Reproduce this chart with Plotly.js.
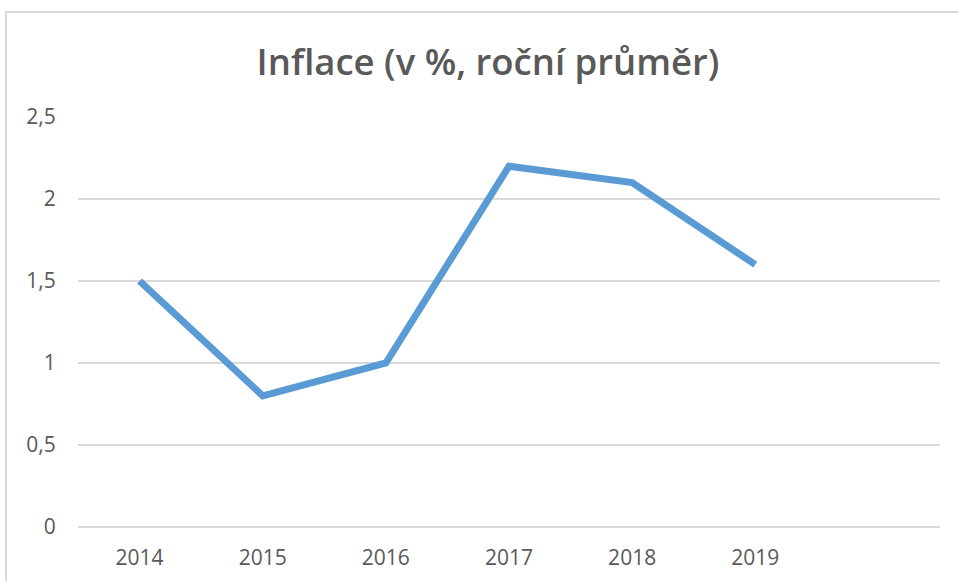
<!DOCTYPE html>
<html>
<head>
<meta charset="utf-8">
<script src="https://cdn.plot.ly/plotly-3.0.1.min.js"></script>
<style>html,body{margin:0;padding:0;background:#fff;}</style>
</head>
<body>
<div id="chart" style="width:958px;height:581px;"></div>
<script>
const years = ['2014', '2015', '2016', '2017', '2018', '2019'];
const inflation = [1.5, 0.8, 1.0, 2.2, 2.1, 1.6];
const titleText = 'Inflace (v %, roční průměr)';

const W = 958, H = 581;
const mL = 78, mR = 18, mT = 117, mB = 54;
const pw = W - mL - mR, ph = H - mT - mB;

const trace = {
  x: years, y: inflation, type: 'scatter', mode: 'lines',
  line: {color: '#5B9BD5', width: 7}, hoverinfo: 'x+y'
};

const layout = {
  width: W, height: H,
  margin: {l: mL, r: mR, t: mT, b: mB},
  paper_bgcolor: '#fff', plot_bgcolor: '#fff',
  separators: ', ',
  showlegend: false,
  font: {family: '"Open Sans", Lato, sans-serif', color: '#595959'},
  title: {
    text: titleText,
    font: {family: '"Open Sans", Lato, sans-serif', size: 36.5, weight: 600, color: '#595959'},
    x: 488 / W, xref: 'container', xanchor: 'center',
    y: 1 - 62 / H, yref: 'container', yanchor: 'middle'
  },
  xaxis: {
    type: 'category', range: [-0.5, 6.5],
    showgrid: false, zeroline: false, showline: false,
    ticks: 'outside', ticklen: 12, tickcolor: 'rgba(0,0,0,0)',
    tickfont: {size: 21, color: '#595959'}, fixedrange: true
  },
  yaxis: {
    range: [0, 2.5], dtick: 0.5, tick0: 0,
    showgrid: true, gridcolor: '#d9d9d9', gridwidth: 1.3,
    zeroline: true, zerolinecolor: '#d9d9d9', zerolinewidth: 1.6,
    showline: false,
    ticks: 'outside', ticklen: 17, tickcolor: 'rgba(0,0,0,0)',
    tickfont: {size: 21, color: '#595959'}, fixedrange: true
  },
  shapes: [{
    type: 'rect', xref: 'paper', yref: 'paper', layer: 'below',
    x0: (6 - mL) / pw, x1: (970 - mL) / pw,
    y0: -(H + 20 - (H - mB)) / ph, y1: ((H - mB) - 12) / ph,
    line: {color: '#d9d9d9', width: 2}, fillcolor: 'rgba(0,0,0,0)'
  }]
};

Plotly.newPlot('chart', [trace], layout, {displayModeBar: false, staticPlot: true});
</script>
</body>
</html>
